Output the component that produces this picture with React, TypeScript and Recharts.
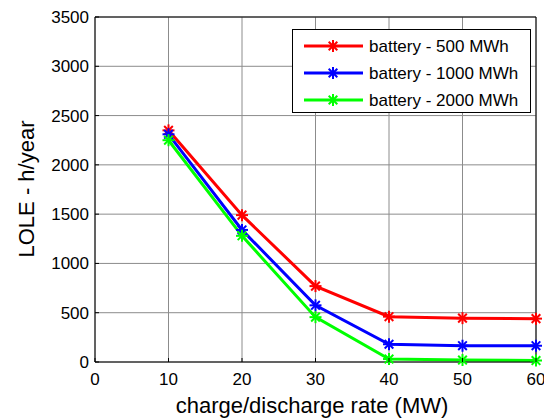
import React from "react";
import {
  CartesianGrid,
  Line,
  LineChart,
  ReferenceLine,
  XAxis,
  YAxis,
} from "recharts";

// charge/discharge rate (MW)
const rates = [10, 20, 30, 40, 50, 60];
// LOLE (h/year) per battery size
const lole500 = [2350, 1490, 770, 460, 445, 440];
const lole1000 = [2310, 1340, 575, 180, 165, 165];
const lole2000 = [2250, 1280, 455, 30, 20, 15];

const xTicks = [0, 10, 20, 30, 40, 50, 60];
const yTicks = [0, 500, 1000, 1500, 2000, 2500, 3000, 3500];

const series = [
  { key: "b500", name: "battery - 500 MWh", color: "#ff0000", values: lole500 },
  { key: "b1000", name: "battery - 1000 MWh", color: "#0000ff", values: lole1000 },
  { key: "b2000", name: "battery - 2000 MWh", color: "#00ff00", values: lole2000 },
];

const data = rates.map((r, i) => {
  const row: any = { rate: r };
  series.forEach((s) => {
    row[s.key] = s.values[i];
  });
  return row;
});

const font = "'Liberation Sans', Arial, sans-serif";

const Asterisk = ({ cx, cy, color }: { cx: number; cy: number; color: string }) => {
  const r = 6;
  const d = r * 0.72;
  return (
    <g stroke={color} strokeWidth={2}>
      <line x1={cx - r} y1={cy} x2={cx + r} y2={cy} />
      <line x1={cx} y1={cy - r} x2={cx} y2={cy + r} />
      <line x1={cx - d} y1={cy - d} x2={cx + d} y2={cy + d} />
      <line x1={cx - d} y1={cy + d} x2={cx + d} y2={cy - d} />
    </g>
  );
};

const XTick = (props: any) => {
  const { x, y, payload } = props;
  return (
    <g>
      <line x1={x} y1={y} x2={x} y2={y - 4} stroke="#000" />
      <text x={x} y={y + 23} textAnchor="middle" fontSize={17} fill="#000" fontFamily={font}>
        {payload.value}
      </text>
    </g>
  );
};

const YTick = (props: any) => {
  const { x, y, payload } = props;
  return (
    <g>
      <line x1={x} y1={y} x2={x + 4} y2={y} stroke="#000" />
      <text x={x - 6} y={y + 6} textAnchor="end" fontSize={17} fill="#000" fontFamily={font}>
        {payload.value}
      </text>
    </g>
  );
};

export default function App() {
  return (
    <div style={{ position: "absolute", left: 0, top: 0, width: 544, height: 418, background: "#fff" }}>
      <LineChart
        width={544}
        height={418}
        data={data}
        margin={{ top: 17, right: 8, left: 0, bottom: 0 }}
      >
        <CartesianGrid stroke="#8c8c8c" strokeWidth={1} />
        <XAxis
          dataKey="rate"
          type="number"
          domain={[0, 60]}
          ticks={xTicks}
          tickSize={0}
          tickMargin={0}
          tick={<XTick />}
          stroke="#000"
          height={56}
          interval={0}
        />
        <YAxis
          type="number"
          domain={[0, 3500]}
          ticks={yTicks}
          tickSize={0}
          tickMargin={0}
          tick={<YTick />}
          stroke="#000"
          width={95}
          interval={0}
        />
        <ReferenceLine y={3500} stroke="#000" />
        <ReferenceLine x={60} stroke="#000" />
        {series.map((s) => (
          <Line
            key={s.key}
            dataKey={s.key}
            name={s.name}
            stroke={s.color}
            strokeWidth={3}
            isAnimationActive={false}
            dot={(p: any) => <Asterisk key={`${s.key}-${p.index}`} cx={p.cx} cy={p.cy} color={s.color} />}
          />
        ))}
      </LineChart>
      <div
        style={{
          position: "absolute",
          left: 27,
          top: 189,
          transform: "translate(-50%, -50%) rotate(-90deg)",
          fontFamily: font,
          fontSize: 22,
          whiteSpace: "nowrap",
          color: "#000",
        }}
      >
        LOLE - h/year
      </div>
      <div
        style={{
          position: "absolute",
          left: 312,
          top: 406,
          transform: "translate(-50%, -50%)",
          fontFamily: font,
          fontSize: 22,
          whiteSpace: "nowrap",
          color: "#000",
        }}
      >
        charge/discharge rate (MW)
      </div>
      <div
        style={{
          position: "absolute",
          left: 292,
          top: 29,
          width: 237,
          height: 82,
          border: "1px solid #000",
          background: "#fff",
        }}
      >
        <svg width={237} height={82} style={{ position: "absolute", left: 0, top: 0 }}>
          {series.map((s, i) => {
            const cy = 16 + i * 27;
            return (
              <g key={s.key}>
                <line x1={11} y1={cy} x2={70} y2={cy} stroke={s.color} strokeWidth={3} />
                <Asterisk cx={40} cy={cy} color={s.color} />
                <text x={76} y={cy + 6} fontSize={17} fontFamily={font} fill="#000">
                  {s.name}
                </text>
              </g>
            );
          })}
        </svg>
      </div>
    </div>
  );
}
